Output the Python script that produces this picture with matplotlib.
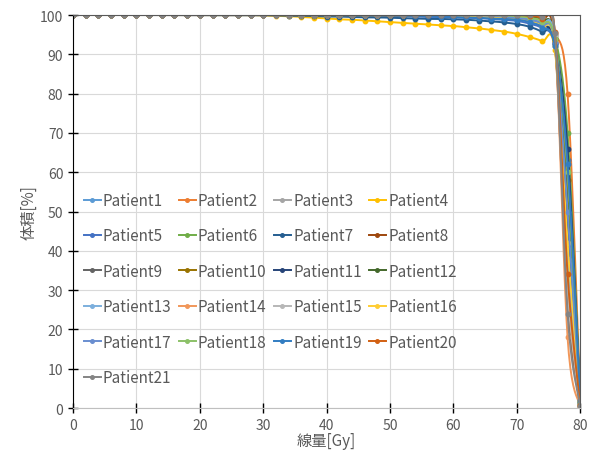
import matplotlib.pyplot as plt
import numpy as np

plt.rcParams['font.family'] = ['Noto Sans CJK JP', 'DejaVu Sans']

# 線量 (Gy)
dose = [0, 2, 4, 6, 8, 10, 12, 14, 16, 18,
        20, 22, 24, 26, 28, 30, 32, 34, 36, 38,
        40, 42, 44, 46, 48, 50, 52, 54, 56, 58,
        60, 62, 64, 66, 68, 70, 72, 74, 76, 78, 80]

# 体積 (%) per patient
p1 = [100, 100, 100, 100, 100, 100, 100, 100, 100, 100,
      100, 100, 100, 100, 100, 100, 100, 100, 100, 100,
      100, 100, 100, 100, 100, 100, 100, 100, 100, 100,
      99.9, 99.8, 99.7, 99.6, 99.4, 99.1, 98.6, 97.2, 92.5, 55, 1.2]
p2 = [100, 100, 100, 100, 100, 100, 100, 100, 100, 100,
      100, 100, 100, 100, 100, 100, 100, 100, 100, 100,
      100, 100, 100, 100, 100, 100, 100, 100, 100, 100,
      100, 100, 100, 100, 99.9, 99.8, 99.6, 98.9, 95.5, 80, 3]
p3 = [100, 100, 100, 100, 100, 100, 100, 100, 100, 100,
      100, 100, 100, 100, 100, 100, 100, 100, 100, 100,
      100, 100, 100, 100, 100, 100, 100, 100, 100, 100,
      100, 100, 100, 100, 100, 100, 99.8, 99.2, 94, 40, 0.8]
p4 = [100, 100, 100, 100, 100, 100, 100, 100, 100, 100,
      100, 100, 100, 100, 100, 99.9, 99.8, 99.7, 99.5, 99.3,
      99.1, 98.9, 98.8, 98.6, 98.4, 98.2, 98.0, 97.8, 97.6, 97.4,
      97.2, 96.9, 96.6, 96.2, 95.8, 95.2, 94.4, 93.3, 91, 45, 1]
p5 = [100, 100, 100, 100, 100, 100, 100, 100, 100, 100,
      100, 100, 100, 100, 100, 100, 100, 100, 100, 100,
      100, 99.9, 99.9, 99.8, 99.8, 99.7, 99.7, 99.6, 99.5, 99.5,
      99.4, 99.3, 99.2, 99.0, 98.8, 98.5, 97.8, 96.5, 92, 63, 2]
p6 = [100, 100, 100, 100, 100, 100, 100, 100, 100, 100,
      100, 100, 100, 100, 100, 100, 100, 100, 100, 100,
      100, 100, 100, 100, 100, 100, 100, 100, 100, 100,
      100, 100, 100, 100, 99.9, 99.8, 99.5, 98.6, 94.5, 70, 2.5]
p7 = [100, 100, 100, 100, 100, 100, 100, 100, 100, 100,
      100, 100, 100, 100, 100, 100, 99.9, 99.8, 99.8, 99.7,
      99.6, 99.6, 99.5, 99.4, 99.4, 99.3, 99.2, 99.1, 99.0, 99.0,
      98.9, 98.8, 98.6, 98.4, 98.1, 97.7, 97.0, 95.6, 92.5, 48, 1.5]
p8 = [100, 100, 100, 100, 100, 100, 100, 100, 100, 100,
      100, 100, 100, 100, 100, 100, 100, 100, 100, 100,
      100, 100, 100, 100, 100, 100, 100, 100, 100, 100,
      100, 100, 100, 100, 100, 99.9, 99.7, 99.0, 93, 27, 0.5]
p9 = [100, 100, 100, 100, 100, 100, 100, 100, 100, 100,
      100, 100, 100, 100, 100, 100, 100, 100, 100, 100,
      100, 100, 100, 100, 100, 100, 100, 100, 100, 100,
      100, 100, 100, 100, 100, 100, 100, 99.5, 95, 35, 0.6]
p10 = [100, 100, 100, 100, 100, 100, 100, 100, 100, 100,
       100, 100, 100, 100, 100, 100, 100, 100, 100, 100,
       100, 100, 100, 100, 100, 100, 100, 100, 100, 100,
       100, 100, 100, 99.9, 99.8, 99.6, 99.2, 98, 93.5, 58, 1.8]
p11 = [100, 100, 100, 100, 100, 100, 100, 100, 100, 100,
       100, 100, 100, 100, 100, 100, 100, 100, 100, 100,
       100, 100, 100, 100, 100, 100, 100, 100, 100, 100,
       100, 99.9, 99.8, 99.7, 99.5, 99.2, 98.7, 97.5, 93, 66, 2.2]
p12 = [100, 100, 100, 100, 100, 100, 100, 100, 100, 100,
       100, 100, 100, 100, 100, 100, 100, 100, 100, 100,
       100, 100, 100, 100, 100, 100, 100, 100, 100, 100,
       100, 100, 100, 100, 100, 99.9, 99.6, 98.8, 94, 52, 1.4]
p13 = [100, 100, 100, 100, 100, 100, 100, 100, 100, 100,
       100, 100, 100, 100, 100, 100, 100, 100, 100, 100,
       100, 100, 100, 100, 100, 100, 100, 100, 100, 100,
       100, 100, 100, 99.9, 99.8, 99.6, 99.1, 98.0, 92.8, 38, 0.9]
p14 = [100, 100, 100, 100, 100, 100, 100, 100, 100, 100,
       100, 100, 100, 100, 100, 100, 100, 100, 100, 100,
       100, 100, 100, 100, 100, 100, 100, 100, 100, 100,
       100, 100, 100, 100, 100, 100, 99.9, 99.4, 95.2, 18, 0.3]
p15 = [100, 100, 100, 100, 100, 100, 100, 100, 100, 100,
       100, 100, 100, 100, 100, 100, 100, 100, 100, 100,
       100, 100, 100, 100, 100, 100, 100, 100, 100, 100,
       100, 100, 100, 100, 100, 100, 100, 99.6, 94.8, 30, 0.4]
p16 = [100, 100, 100, 100, 100, 100, 100, 100, 100, 100,
       100, 100, 100, 100, 100, 100, 100, 100, 100, 100,
       100, 100, 100, 100, 100, 100, 100, 100, 100, 99.9,
       99.8, 99.7, 99.6, 99.4, 99.2, 99.0, 98.5, 97.2, 92, 42, 1]
p17 = [100, 100, 100, 100, 100, 100, 100, 100, 100, 100,
       100, 100, 100, 100, 100, 100, 100, 100, 100, 100,
       100, 100, 100, 100, 100, 100, 100, 100, 100, 100,
       100, 100, 99.9, 99.8, 99.6, 99.3, 98.8, 97.6, 93, 50, 1.3]
p18 = [100, 100, 100, 100, 100, 100, 100, 100, 100, 100,
       100, 100, 100, 100, 100, 100, 100, 100, 100, 100,
       100, 100, 100, 100, 100, 100, 100, 100, 100, 100,
       100, 100, 100, 100, 99.9, 99.7, 99.3, 98.3, 94, 60, 1.9]
p19 = [100, 100, 100, 100, 100, 100, 100, 100, 100, 100,
       100, 100, 100, 100, 100, 100, 100, 100, 100, 100,
       100, 100, 100, 100, 100, 100, 99.9, 99.8, 99.7, 99.6,
       99.5, 99.4, 99.3, 99.1, 99.0, 98.8, 98.2, 96.8, 92.2, 62, 2]
p20 = [100, 100, 100, 100, 100, 100, 100, 100, 100, 100,
       100, 100, 100, 100, 100, 100, 100, 100, 100, 100,
       100, 100, 100, 100, 100, 100, 100, 100, 100, 100,
       100, 100, 100, 100, 100, 100, 99.8, 99.1, 95.8, 34, 0.7]
p21 = [100, 100, 100, 100, 100, 100, 100, 100, 100, 100,
       100, 100, 100, 100, 100, 100, 100, 100, 100, 100,
       100, 100, 100, 100, 100, 100, 100, 100, 100, 100,
       100, 100, 100, 100, 100, 100, 100, 99.5, 95.5, 24, 0.4]

patients = [p1, p2, p3, p4, p5, p6, p7, p8, p9, p10, p11,
            p12, p13, p14, p15, p16, p17, p18, p19, p20, p21]
labels = ["Patient%d" % (i + 1) for i in range(len(patients))]

# Excel Office palette
colors = ["#5B9BD5", "#ED7D31", "#A5A5A5", "#FFC000", "#4472C4", "#70AD47",
          "#255E91", "#9E480E", "#636363", "#997300", "#264478", "#43682B",
          "#7CAFDD", "#F1975A", "#B7B7B7", "#FFCD33", "#698ED0", "#8CC168",
          "#327DC2", "#D26012", "#848484"]


def smooth(x, y, n=10):
    # Excel-like smoothed line (Catmull-Rom as cubic Bezier)
    x = np.asarray(x, float)
    y = np.asarray(y, float)
    px = np.concatenate([[x[0]], x, [x[-1]]])
    py = np.concatenate([[y[0]], y, [y[-1]]])
    t = np.linspace(0, 1, n, endpoint=False)[:, None]
    xs, ys = [], []
    for i in range(len(x) - 1):
        p0 = np.array([px[i + 1], py[i + 1]])
        p3 = np.array([px[i + 2], py[i + 2]])
        p1 = p0 + (p3 - np.array([px[i], py[i]])) / 6
        p2 = p3 - (np.array([px[i + 3], py[i + 3]]) - p0) / 6
        pts = ((1 - t) ** 3 * p0 + 3 * (1 - t) ** 2 * t * p1
               + 3 * (1 - t) * t ** 2 * p2 + t ** 3 * p3)
        xs.append(pts[:, 0])
        ys.append(pts[:, 1])
    xs.append([x[-1]])
    ys.append([y[-1]])
    return np.concatenate(xs), np.concatenate(ys)


fig = plt.figure(figsize=(6.14, 4.64), dpi=100)
ax = fig.add_axes([0.119, 0.1185, 0.826, 0.847])

handles = []
for vals, lab, c in zip(patients, labels, colors):
    sx, sy = smooth(dose, vals)
    ax.plot(sx, sy, color=c, lw=1.4)
    ax.plot(dose, vals, ls="none", color=c, marker="o", ms=3.2)
    h, = ax.plot([], [], color=c, lw=1.4, marker="o", ms=3.2, label=lab)
    handles.append(h)

ax.set_xlim(0, 80)
ax.set_ylim(0, 100)
ax.set_xticks(range(0, 81, 10))
ax.set_yticks(range(0, 101, 10))
ax.grid(True, color="#D9D9D9", lw=0.8)
ax.set_axisbelow(True)

ax.tick_params(direction="inout", length=7, width=1, colors="black",
               labelcolor="#595959", labelsize=10)
ax.spines["left"].set_color("black")
ax.spines["bottom"].set_color("#BFBFBF")
ax.spines["top"].set_color("#595959")
ax.spines["right"].set_color("#595959")

ax.set_xlabel("線量[Gy]", color="#595959", fontsize=11, labelpad=0)
ax.set_ylabel("体積[%]", color="#595959", fontsize=11, labelpad=2)

# legend filled row by row: Patient1..4 on the first row
ncol = 4
order = [i for c in range(ncol) for i in range(c, len(handles), ncol)]
ax.legend([handles[i] for i in order], [labels[i] for i in order],
          loc="upper left", bbox_to_anchor=(-0.006, 0.585), ncol=ncol,
          frameon=False, fontsize=11, labelcolor="#595959",
          handlelength=1.1, handletextpad=0.15, columnspacing=0.48,
          labelspacing=1.21, markerscale=0.8)

fig.savefig("out.png", dpi=100)
